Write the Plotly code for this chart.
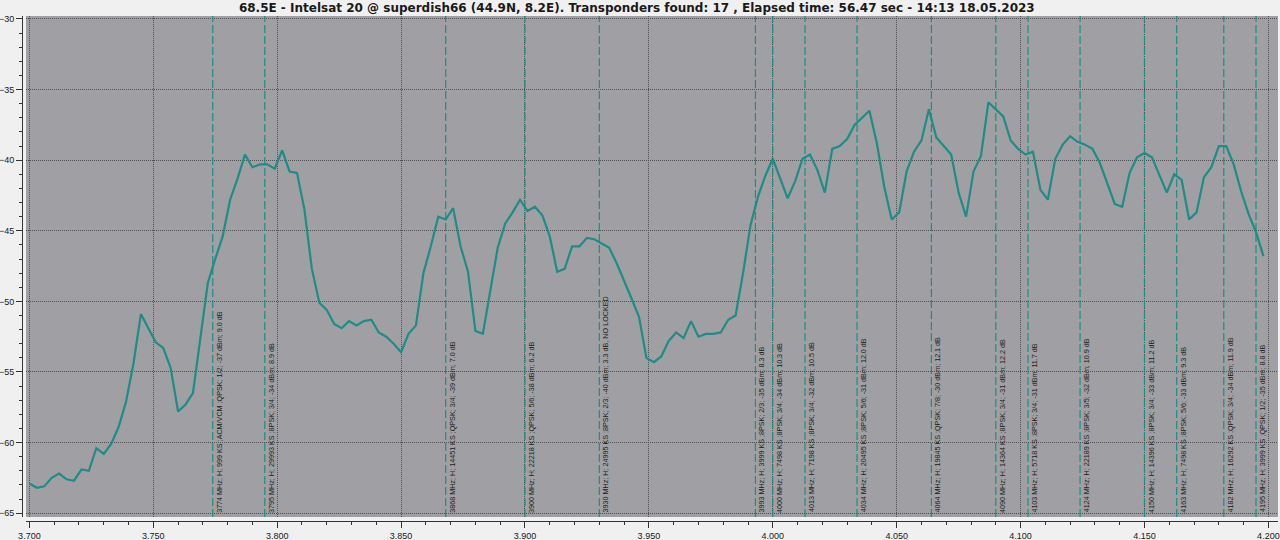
import plotly.graph_objects as go

# ---------------- data ----------------
freq_mhz = [
    3700, 3703, 3706, 3709, 3712, 3715, 3718, 3721, 3724, 3727,
    3730, 3733, 3736, 3739, 3742, 3745, 3748, 3751, 3754, 3757,
    3760, 3763, 3766, 3769, 3772, 3775, 3778, 3781, 3784, 3787,
    3790, 3793, 3796, 3799, 3802, 3805, 3808, 3811, 3814, 3817,
    3820, 3823, 3826, 3829, 3832, 3835, 3838, 3841, 3844, 3847,
    3850, 3853, 3856, 3859, 3862, 3865, 3868, 3871, 3874, 3877,
    3880, 3883, 3886, 3889, 3892, 3895, 3898, 3901, 3904, 3907,
    3910, 3913, 3916, 3919, 3922, 3925, 3928, 3931, 3934, 3937,
    3940, 3943, 3946, 3949, 3952, 3955, 3958, 3961, 3964, 3967,
    3970, 3973, 3976, 3979, 3982, 3985, 3988, 3991, 3994, 3997,
    4000, 4003, 4006, 4009, 4012, 4015, 4018, 4021, 4024, 4027,
    4030, 4033, 4036, 4039, 4042, 4045, 4048, 4051, 4054, 4057,
    4060, 4063, 4066, 4069, 4072, 4075, 4078, 4081, 4084, 4087,
    4090, 4093, 4096, 4099, 4102, 4105, 4108, 4111, 4114, 4117,
    4120, 4123, 4126, 4129, 4132, 4135, 4138, 4141, 4144, 4147,
    4150, 4153, 4156, 4159, 4162, 4165, 4168, 4171, 4174, 4177,
    4180, 4183, 4186, 4189, 4192, 4195, 4198,
]

level_dbm = [
    -62.9, -63.2, -63.1, -62.5, -62.2, -62.6, -62.7, -61.9, -62.0, -60.4,
    -60.8, -60.1, -58.9, -57.1, -54.4, -50.9, -51.9, -52.9, -53.3, -54.7,
    -57.8, -57.3, -56.5, -52.7, -48.7, -47.0, -45.4, -42.8, -41.3, -39.6,
    -40.5, -40.3, -40.3, -40.6, -39.3, -40.8, -40.9, -43.5, -47.7, -50.1,
    -50.6, -51.6, -51.9, -51.4, -51.7, -51.4, -51.3, -52.2, -52.5, -53.0,
    -53.6, -52.3, -51.7, -48.0, -46.1, -44.0, -44.2, -43.4, -46.1, -47.9,
    -52.1, -52.3, -49.3, -46.2, -44.5, -43.7, -42.8, -43.6, -43.3, -43.9,
    -45.4, -47.9, -47.7, -46.1, -46.1, -45.5, -45.6, -45.9, -46.2, -47.3,
    -48.5, -49.8, -51.1, -54.0, -54.3, -53.9, -52.8, -52.2, -52.6, -51.4,
    -52.5, -52.3, -52.3, -52.2, -51.3, -51.0, -48.0, -44.6, -42.6, -41.1,
    -39.9, -41.3, -42.7, -41.5, -39.9, -39.6, -40.7, -42.3, -39.2, -39.0,
    -38.5, -37.5, -37.0, -36.5, -38.8, -41.9, -44.2, -43.7, -40.8, -39.4,
    -38.6, -36.4, -38.4, -39.0, -39.6, -42.3, -44.0, -40.8, -39.7, -35.9,
    -36.4, -36.9, -38.6, -39.2, -39.6, -39.4, -42.1, -42.8, -39.9, -38.9,
    -38.3, -38.7, -38.9, -39.2, -40.2, -41.6, -43.1, -43.3, -40.9, -39.8,
    -39.5, -39.8, -41.1, -42.3, -41.0, -41.4, -44.2, -43.7, -41.2, -40.5,
    -39.0, -39.0, -40.3, -42.2, -43.8, -45.1, -46.8,
]

tp_freq_mhz = [3774, 3795, 3868, 3900, 3930, 3993, 4000, 4013, 4034,
               4064, 4090, 4103, 4124, 4150, 4163, 4182, 4195]

tp_labels = [
    "3774 MHz; H; 999 KS ;ACM/VCM ;QPSK; 1/2; -37 dBm; 9.0 dB",
    "3795 MHz; H; 29993 KS ;8PSK; 3/4; -34 dBm; 8.9 dB",
    "3868 MHz; H; 14451 KS ;QPSK; 3/4; -39 dBm; 7.0 dB",
    "3900 MHz; H; 22218 KS ;QPSK; 5/6; -38 dBm; 6.2 dB",
    "3930 MHz; H; 24995 KS ;8PSK; 2/3; -40 dBm; 3.3 dB, NO LOCKED",
    "3993 MHz; H; 3999 KS ;8PSK; 2/3; -35 dBm; 8.3 dB",
    "4000 MHz; H; 7498 KS ;8PSK; 3/4; -34 dBm; 10.3 dB",
    "4013 MHz; H; 7198 KS ;8PSK; 3/4; -32 dBm; 10.5 dB",
    "4034 MHz; H; 20495 KS ;8PSK; 5/6; -31 dBm; 12.0 dB",
    "4064 MHz; H; 19845 KS ;QPSK; 7/8; -30 dBm; 12.1 dB",
    "4090 MHz; H; 14364 KS ;8PSK; 3/4; -31 dBm; 12.2 dB",
    "4103 MHz; H; 5718 KS ;8PSK; 3/4; -31 dBm; 11.7 dB",
    "4124 MHz; H; 22189 KS ;8PSK; 3/5; -32 dBm; 10.9 dB",
    "4150 MHz; H; 14396 KS ;8PSK; 3/4; -33 dBm; 11.2 dB",
    "4163 MHz; H; 7498 KS ;8PSK; 5/6; -33 dBm; 9.3 dB",
    "4182 MHz; H; 16292 KS ;QPSK; 3/4; -34 dBm; 11.9 dB",
    "4195 MHz; H; 3999 KS ;QPSK; 1/2; -35 dBm; 8.8 dB",
]

x_ticks = [3.70, 3.75, 3.80, 3.85, 3.90, 3.95, 4.00, 4.05, 4.10, 4.15, 4.20]
y_ticks = [-30, -35, -40, -45, -50, -55, -60, -65]

title_text = ("68.5E - Intelsat 20 @ superdish66 (44.9N, 8.2E). Transponders found: 17 , "
              "Elapsed time: 56.47 sec - 14:13 18.05.2023")

# ---------------- styling ----------------
TEAL = "#1f8c86"
PLOT_BG = "#a0a0a4"
PAGE_BG = "#f0f0f0"
GRID = "#505054"
FONT = "Liberation Sans"

freq_ghz = [f / 1000 for f in freq_mhz]
tp_ghz = [f / 1000 for f in tp_freq_mhz]

X_RANGE = [3.69863, 4.20388]
Y_RANGE = [-65.27, -29.79]

fig = go.Figure()

fig.add_trace(go.Scatter(
    x=freq_ghz, y=level_dbm, mode="lines",
    line=dict(color=TEAL, width=2.2),
    xaxis="x", yaxis="y", showlegend=False, hoverinfo="x+y",
))
# invisible twin trace so the offset axes are drawn
fig.add_trace(go.Scatter(
    x=freq_ghz, y=level_dbm, mode="lines", line=dict(width=0),
    opacity=0, xaxis="x2", yaxis="y2", showlegend=False, hoverinfo="skip",
))

shapes = []
annotations = []
for f, lab in zip(tp_ghz, tp_labels):
    shapes.append(dict(
        type="line", xref="x", yref="y domain", x0=f, x1=f, y0=0, y1=1,
        line=dict(color=TEAL, width=1.2, dash="8px,3px"), layer="above",
    ))
    annotations.append(dict(
        x=f, y=-65.1, xref="x", yref="y", text=lab, textangle=-90,
        xanchor="left", yanchor="bottom", xshift=0, showarrow=False,
        font=dict(family=FONT, size=7.2, color="#1a1a1a"),
    ))

L, R, T, B = 22, 2, 16, 19
W, H = 1280, 540
pw = W - L - R
ph = H - T - B

fig.update_layout(
    width=W, height=H,
    margin=dict(l=L, r=R, t=T, b=B, pad=0, autoexpand=False),
    paper_bgcolor=PAGE_BG, plot_bgcolor=PLOT_BG,
    title=dict(text=title_text, x=0.4975, xanchor="center", y=1 - 7.5 / H,
               yanchor="middle", yref="container", automargin=False,
               font=dict(family="DejaVu Sans", size=12, color="#1a1a1a",
                         weight="bold")),
    shapes=shapes, annotations=annotations,
    xaxis=dict(
        domain=[(26 - L) / pw, 1], range=X_RANGE, tickvals=x_ticks,
        showticklabels=False, ticks="", showline=False, zeroline=False,
        showgrid=True, gridcolor=GRID, griddash="1px,1px", gridwidth=1,
        automargin=False,
    ),
    yaxis=dict(
        domain=[(521 - 517) / ph, 1], range=Y_RANGE, tickvals=y_ticks,
        showticklabels=False, ticks="", showline=False, zeroline=False,
        showgrid=True, gridcolor=GRID, griddash="1px,1px", gridwidth=1,
        automargin=False,
    ),
    xaxis2=dict(
        overlaying="x", anchor="free", position=0, range=X_RANGE,
        tickvals=x_ticks, tickformat=".3f", ticks="outside", ticklen=6,
        tickcolor="#333333", showline=True, linecolor="#333333", linewidth=1,
        showgrid=False, zeroline=False, automargin=False,
        minor=dict(dtick=0.01, tick0=3.70, ticks="outside", ticklen=3,
                   tickcolor="#333333", showgrid=False),
        tickfont=dict(family=FONT, size=9, color="#1a1a1a"),
    ),
    yaxis2=dict(
        overlaying="y", anchor="free", position=0, side="left", range=Y_RANGE,
        tickvals=y_ticks, ticks="outside", ticklen=6, tickcolor="#333333",
        showline=True, linecolor="#333333", linewidth=1,
        showgrid=False, zeroline=False, automargin=False,
        minor=dict(dtick=1, tick0=-65, ticks="outside", ticklen=3,
                   tickcolor="#333333", showgrid=False),
        tickfont=dict(family=FONT, size=9, color="#1a1a1a"),
    ),
)

fig.write_html(
    "out.html",
    config={"displayModeBar": False},
    post_script="document.body.style.margin='0px';document.body.style.overflow='hidden';",
)
